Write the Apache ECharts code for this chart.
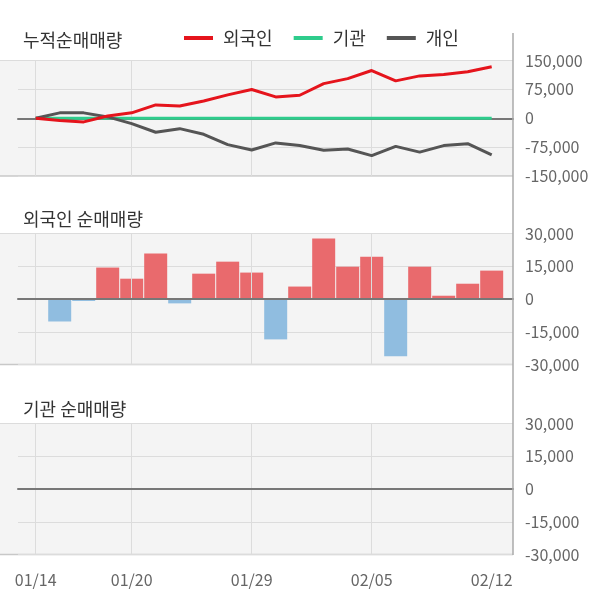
<!DOCTYPE html>
<html>
<head>
<meta charset="utf-8">
<script src="https://cdn.jsdelivr.net/npm/echarts@6/dist/echarts.min.js"></script>
<style>
html,body{margin:0;padding:0;background:#fff;}
#c{width:600px;height:604px;}
</style>
</head>
<body>
<div id="c"></div>
<script>
var dates = ['01/14','01/15','01/16','01/17','01/20','01/21','01/22','01/23','01/28','01/29','01/30','01/31','02/03','02/04','02/05','02/06','02/07','02/10','02/11','02/12'];
var foreignCum = [0, -6000, -9500, 6000, 14000, 34700, 32000, 45000, 60700, 74600, 55500, 59800, 90000, 103000, 124000, 97000, 110000, 113500, 121000, 134000];
var instCum = [0, 0, 0, 0, 0, 0, 0, 0, 0, 0, 0, 0, 0, 0, 0, 0, 0, 0, 0, 0];
var indivCum = [0, 14000, 14000, 3500, -14000, -36400, -27000, -41600, -68500, -82400, -64000, -71000, -83000, -80000, -97000, -73000, -88000, -71000, -66000, -95000];
var foreignDaily = [0, -10300, -900, 14400, 9300, 20800, -2000, 11600, 17100, 12100, -18500, 5700, 27700, 14800, 19400, -26200, 14800, 1500, 7000, 13000];
var instDaily = [0, 0, 0, 0, 0, 0, 0, 0, 0, 0, 0, 0, 0, 0, 0, 0, 0, 0, 0, 0];
var cumTicks = [-150000, -75000, 0, 75000, 150000];
var dailyTicks = [-30000, -15000, 0, 15000, 30000];
var labelIdx = [0, 4, 9, 14, 19];
var gridLineIdx = [0, 4, 9, 14];

var FONT = '"Noto Sans CJK KR", "Noto Sans", sans-serif';
var chart = echarts.init(document.getElementById('c'), null, {renderer: 'canvas'});

function pts(arr) { return arr.map(function (v, i) { return [i, v]; }); }
function fmt(v) { return Number(v).toLocaleString('en-US'); }

var grids = [
  {left: 18, right: 87, top: 60.5, height: 115.5},
  {left: 18, right: 87, top: 233.5, height: 131},
  {left: 18, right: 87, top: 423.5, height: 131}
];

function xAx(i, showLabel, z) {
  return {
    type: 'value', gridIndex: i, min: -0.7375, max: 19.888, z: z,
    axisLine: {show: true, onZero: true, lineStyle: {color: '#777', width: 2}},
    axisTick: {show: false, customValues: gridLineIdx},
    splitLine: {show: true, lineStyle: {color: '#dcdcdc', width: 1}},
    axisLabel: showLabel ? {
      show: true, customValues: labelIdx, margin: 17, color: '#666',
      fontSize: 16, fontFamily: FONT,
      formatter: function (v) { return dates[Math.round(v)]; }
    } : {show: false}
  };
}
function yAx(i, ticks) {
  return {
    type: 'value', gridIndex: i, position: 'right',
    min: ticks[0], max: ticks[ticks.length - 1], interval: ticks[1] - ticks[0],
    axisLine: {show: false}, axisTick: {show: false},
    splitLine: {show: true, lineStyle: {color: '#dcdcdc', width: 1}},
    axisLabel: {margin: 12, color: '#666', fontSize: 16, fontFamily: FONT, formatter: fmt}
  };
}

var bgGraphics = [];
grids.forEach(function (g) {
  var y0 = g.top, y1 = g.top + g.height;
  bgGraphics.push({type: 'rect', silent: true, z: -10, shape: {x: 0, y: y0, width: 513, height: g.height}, style: {fill: '#f4f4f4'}});
  bgGraphics.push({type: 'line', silent: true, z: -9, shape: {x1: 0, y1: y0, x2: 513, y2: y0}, style: {stroke: '#dcdcdc', lineWidth: 1}});
  bgGraphics.push({type: 'line', silent: true, z: -9, shape: {x1: 0, y1: y1, x2: 513, y2: y1}, style: {stroke: '#c8c8c8', lineWidth: 1.5}});
});
bgGraphics.push({type: 'line', silent: true, z: 10, shape: {x1: 513, y1: 33, x2: 513, y2: 555}, style: {stroke: '#aaa', lineWidth: 1.5}});
var titles = [['누적순매매량', 40], ['외국인 순매매량', 219], ['기관 순매매량', 409]];
titles.forEach(function (t) {
  bgGraphics.push({type: 'text', silent: true, z: 10, style: {text: t[0], x: 23, y: t[1], fill: '#333', font: '18px ' + FONT, verticalAlign: 'middle'}});
});

var option = {
  backgroundColor: '#fff',
  animation: false,
  graphic: bgGraphics,
  legend: {
    data: ['외국인', '기관', '개인'],
    left: 184, top: 29, padding: 0, icon: 'rect', itemWidth: 29, itemHeight: 4, itemGap: 21,
    textStyle: {color: '#333', fontSize: 18, fontFamily: FONT, padding: [0, 0, 0, 5]}
  },
  grid: grids,
  xAxis: [xAx(0, false, 0), xAx(1, false, 5), xAx(2, true, 5)],
  yAxis: [yAx(0, cumTicks), yAx(1, dailyTicks), yAx(2, dailyTicks)],
  series: [
    {name: '기관', type: 'line', xAxisIndex: 0, yAxisIndex: 0, data: pts(instCum), showSymbol: false, symbol: 'none', color: '#2ecc8c', lineStyle: {width: 3, color: '#2ecc8c'}, z: 2},
    {name: '개인', type: 'line', xAxisIndex: 0, yAxisIndex: 0, data: pts(indivCum), showSymbol: false, symbol: 'none', color: '#555', lineStyle: {width: 3, color: '#555'}, z: 3},
    {name: '외국인', type: 'line', xAxisIndex: 0, yAxisIndex: 0, data: pts(foreignCum), showSymbol: false, symbol: 'none', color: '#e5141c', lineStyle: {width: 3, color: '#e5141c'}, z: 4},
    {name: '외국인 순매매량', type: 'bar', xAxisIndex: 1, yAxisIndex: 1, barWidth: 23,
      data: foreignDaily.map(function (v, i) { return {value: [i, v], itemStyle: {color: v >= 0 ? '#e96a6d' : '#90bde0'}}; })},
    {name: '기관 순매매량', type: 'bar', xAxisIndex: 2, yAxisIndex: 2, barWidth: 23,
      data: instDaily.map(function (v, i) { return {value: [i, v], itemStyle: {color: v >= 0 ? '#e96a6d' : '#90bde0'}}; })}
  ]
};
chart.setOption(option);
</script>
</body>
</html>
